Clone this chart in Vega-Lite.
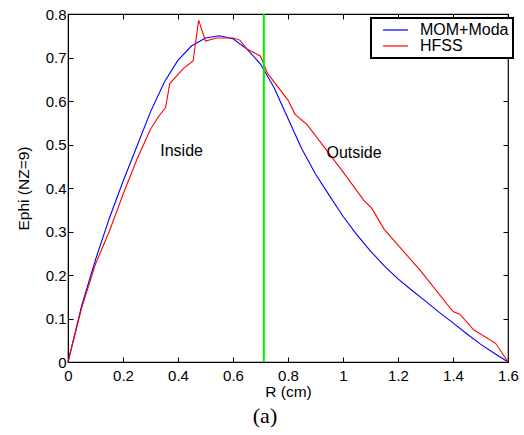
{
  "$schema": "https://vega.github.io/schema/vega-lite/v6.json",
  "width": 440,
  "height": 348,
  "autosize": {"type": "none"},
  "padding": {"left": 68, "top": 14, "right": 15, "bottom": 73},
  "background": "white",
  "config": {
    "view": {"stroke": "black", "strokeWidth": 1.2},
    "font": "Liberation Sans",
    "legend": {"strokeWidth": 2},
    "axis": {"grid": false, "domainColor": "black", "tickColor": "black", "labelColor": "black", "titleColor": "black", "labelFontSize": 15, "titleFontSize": 15.5, "titleFontWeight": "normal", "tickSize": -5, "tickWidth": 1, "labelFlush": false, "labelFont": "Liberation Sans", "titleFont": "Liberation Sans"}
  },
  "title": {"text": "(a)", "orient": "bottom", "font": "Liberation Serif", "fontSize": 22, "fontWeight": "normal", "offset": 6, "dx": -23, "color": "black"},
  "datasets": {
    "curves": [
      {"R": 0, "E": 0, "s": "MOM+Moda"},
      {"R": 0.05, "E": 0.13, "s": "MOM+Moda"},
      {"R": 0.1, "E": 0.235, "s": "MOM+Moda"},
      {"R": 0.15, "E": 0.33, "s": "MOM+Moda"},
      {"R": 0.2, "E": 0.415, "s": "MOM+Moda"},
      {"R": 0.25, "E": 0.495, "s": "MOM+Moda"},
      {"R": 0.3, "E": 0.575, "s": "MOM+Moda"},
      {"R": 0.35, "E": 0.643, "s": "MOM+Moda"},
      {"R": 0.4, "E": 0.694, "s": "MOM+Moda"},
      {"R": 0.45, "E": 0.727, "s": "MOM+Moda"},
      {"R": 0.5, "E": 0.745, "s": "MOM+Moda"},
      {"R": 0.55, "E": 0.75, "s": "MOM+Moda"},
      {"R": 0.6, "E": 0.743, "s": "MOM+Moda"},
      {"R": 0.65, "E": 0.72, "s": "MOM+Moda"},
      {"R": 0.7, "E": 0.685, "s": "MOM+Moda"},
      {"R": 0.75, "E": 0.63, "s": "MOM+Moda"},
      {"R": 0.8, "E": 0.56, "s": "MOM+Moda"},
      {"R": 0.85, "E": 0.49, "s": "MOM+Moda"},
      {"R": 0.9, "E": 0.432, "s": "MOM+Moda"},
      {"R": 0.95, "E": 0.383, "s": "MOM+Moda"},
      {"R": 1.0, "E": 0.335, "s": "MOM+Moda"},
      {"R": 1.05, "E": 0.293, "s": "MOM+Moda"},
      {"R": 1.1, "E": 0.255, "s": "MOM+Moda"},
      {"R": 1.15, "E": 0.221, "s": "MOM+Moda"},
      {"R": 1.2, "E": 0.191, "s": "MOM+Moda"},
      {"R": 1.25, "E": 0.165, "s": "MOM+Moda"},
      {"R": 1.3, "E": 0.14, "s": "MOM+Moda"},
      {"R": 1.35, "E": 0.114, "s": "MOM+Moda"},
      {"R": 1.4, "E": 0.09, "s": "MOM+Moda"},
      {"R": 1.45, "E": 0.065, "s": "MOM+Moda"},
      {"R": 1.5, "E": 0.041, "s": "MOM+Moda"},
      {"R": 1.55, "E": 0.02, "s": "MOM+Moda"},
      {"R": 1.6, "E": 0, "s": "MOM+Moda"},
      {"R": 0, "E": 0, "s": "HFSS"},
      {"R": 0.05, "E": 0.125, "s": "HFSS"},
      {"R": 0.1, "E": 0.225, "s": "HFSS"},
      {"R": 0.15, "E": 0.3, "s": "HFSS"},
      {"R": 0.2, "E": 0.385, "s": "HFSS"},
      {"R": 0.25, "E": 0.465, "s": "HFSS"},
      {"R": 0.3, "E": 0.535, "s": "HFSS"},
      {"R": 0.33, "E": 0.565, "s": "HFSS"},
      {"R": 0.355, "E": 0.585, "s": "HFSS"},
      {"R": 0.37, "E": 0.64, "s": "HFSS"},
      {"R": 0.42, "E": 0.675, "s": "HFSS"},
      {"R": 0.455, "E": 0.692, "s": "HFSS"},
      {"R": 0.475, "E": 0.786, "s": "HFSS"},
      {"R": 0.5, "E": 0.738, "s": "HFSS"},
      {"R": 0.54, "E": 0.745, "s": "HFSS"},
      {"R": 0.6, "E": 0.745, "s": "HFSS"},
      {"R": 0.625, "E": 0.74, "s": "HFSS"},
      {"R": 0.65, "E": 0.72, "s": "HFSS"},
      {"R": 0.7, "E": 0.703, "s": "HFSS"},
      {"R": 0.725, "E": 0.664, "s": "HFSS"},
      {"R": 0.8, "E": 0.602, "s": "HFSS"},
      {"R": 0.825, "E": 0.57, "s": "HFSS"},
      {"R": 0.87, "E": 0.545, "s": "HFSS"},
      {"R": 0.94, "E": 0.487, "s": "HFSS"},
      {"R": 1.0, "E": 0.437, "s": "HFSS"},
      {"R": 1.075, "E": 0.372, "s": "HFSS"},
      {"R": 1.105, "E": 0.353, "s": "HFSS"},
      {"R": 1.15, "E": 0.305, "s": "HFSS"},
      {"R": 1.28, "E": 0.211, "s": "HFSS"},
      {"R": 1.4, "E": 0.116, "s": "HFSS"},
      {"R": 1.425, "E": 0.11, "s": "HFSS"},
      {"R": 1.475, "E": 0.074, "s": "HFSS"},
      {"R": 1.555, "E": 0.043, "s": "HFSS"},
      {"R": 1.6, "E": 0, "s": "HFSS"}
    ],
    "boundary": [{"R": 0.712}],
    "labels": [
      {"R": 0.413, "E": 0.485, "t": "Inside"},
      {"R": 1.04, "E": 0.48, "t": "Outside"}
    ]
  },
  "layer": [
    {
      "data": {"name": "curves"},
      "mark": {"type": "line", "strokeWidth": 1.1},
      "encoding": {
        "x": {"field": "R", "type": "quantitative", "scale": {"domain": [0, 1.6], "nice": false}, "axis": {"title": "R (cm)", "values": [0, 0.2, 0.4, 0.6, 0.8, 1, 1.2, 1.4, 1.6], "format": "~g", "labelPadding": 11, "titlePadding": 1}},
        "y": {"field": "E", "type": "quantitative", "scale": {"domain": [0, 0.8], "nice": false}, "axis": {"title": "Ephi (NZ=9)", "values": [0, 0.1, 0.2, 0.3, 0.4, 0.5, 0.6, 0.7, 0.8], "format": "~g", "labelPadding": 7, "titlePadding": 14}},
        "color": {"field": "s", "type": "nominal", "sort": ["MOM+Moda", "HFSS"], "scale": {"domain": ["MOM+Moda", "HFSS"], "range": ["#0000ff", "#ff0000"]},
          "legend": {"title": null, "orient": "none", "legendX": 303, "legendY": 4, "strokeColor": "black", "fillColor": "white", "padding": 4, "symbolType": "M0,0L5,0", "symbolSize": 100, "symbolStrokeWidth": 1.2, "labelFontSize": 16, "labelFont": "Liberation Sans", "labelColor": "black", "rowPadding": 0, "labelOffset": 29}}
      }
    },
    {
      "data": {"name": "boundary"},
      "mark": {"type": "rule", "color": "#00ee00", "strokeWidth": 2},
      "encoding": {
        "x": {"field": "R", "type": "quantitative", "scale": {"domain": [0, 1.6], "nice": false}, "axis": {"orient": "top", "labels": false, "title": null, "values": [0, 0.2, 0.4, 0.6, 0.8, 1, 1.2, 1.4, 1.6], "domain": false}}
      }
    },
    {
      "data": {"name": "labels"},
      "mark": {"type": "text", "fontSize": 16, "font": "Liberation Sans", "color": "black"},
      "encoding": {
        "x": {"field": "R", "type": "quantitative", "scale": {"domain": [0, 1.6], "nice": false}, "axis": null},
        "y": {"field": "E", "type": "quantitative", "scale": {"domain": [0, 0.8], "nice": false}, "axis": {"orient": "right", "labels": false, "title": null, "values": [0, 0.1, 0.2, 0.3, 0.4, 0.5, 0.6, 0.7, 0.8], "domain": false}},
        "text": {"field": "t"}
      }
    }
  ],
  "resolve": {"scale": {"x": "independent", "y": "independent"}, "axis": {"x": "independent", "y": "independent"}}
}
